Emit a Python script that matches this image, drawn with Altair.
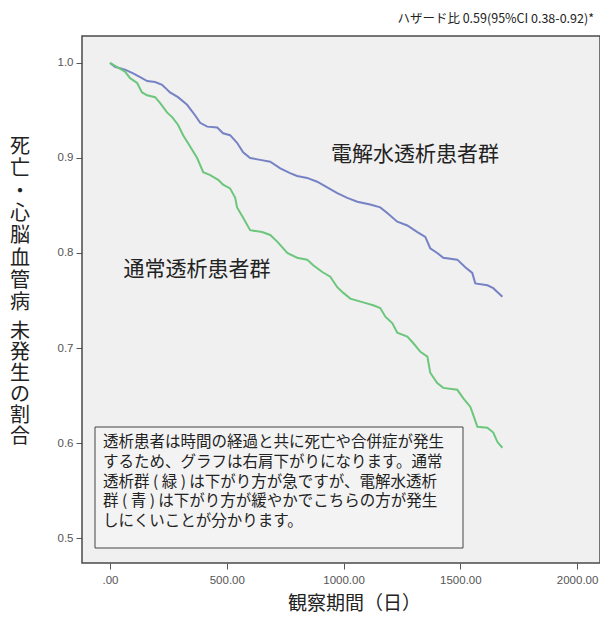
import altair as alt
import pandas as pd

# ---- data (Kaplan-Meier style curves) ----
blue_days = [0, 21, 64, 99, 129, 159, 193, 223, 257, 291, 330, 364, 386, 416, 459, 484, 514, 544, 570, 600,
             643, 686, 729, 771, 801, 844, 887, 930, 973, 1016, 1059, 1114, 1157, 1187, 1230, 1273, 1316,
             1350, 1371, 1401, 1427, 1487, 1521, 1551, 1564, 1616, 1641, 1663, 1680]
blue_surv = [1.000, 0.996, 0.993, 0.989, 0.985, 0.981, 0.980, 0.977, 0.969, 0.964, 0.956, 0.945, 0.937, 0.933,
             0.932, 0.926, 0.924, 0.916, 0.906, 0.900, 0.898, 0.896, 0.889, 0.884, 0.881, 0.879, 0.875, 0.869,
             0.863, 0.858, 0.854, 0.851, 0.848, 0.842, 0.833, 0.829, 0.822, 0.817, 0.805, 0.800, 0.795, 0.793,
             0.785, 0.779, 0.768, 0.766, 0.763, 0.758, 0.754]

green_days = [0, 34, 64, 86, 116, 137, 159, 193, 214, 244, 266, 291, 313, 343, 373, 399, 429, 463, 484, 514,
              536, 544, 570, 600, 651, 686, 716, 759, 801, 844, 870, 909, 943, 973, 999, 1029, 1084, 1127,
              1157, 1179, 1209, 1230, 1273, 1299, 1329, 1359, 1371, 1401, 1427, 1487, 1513, 1543, 1556,
              1573, 1616, 1641, 1659, 1680]
green_surv = [1.000, 0.995, 0.991, 0.984, 0.979, 0.969, 0.966, 0.964, 0.958, 0.948, 0.943, 0.935, 0.924,
              0.912, 0.900, 0.885, 0.882, 0.877, 0.872, 0.868, 0.858, 0.848, 0.837, 0.824, 0.822, 0.819,
              0.812, 0.800, 0.795, 0.793, 0.787, 0.780, 0.775, 0.764, 0.758, 0.752, 0.748, 0.745, 0.742,
              0.733, 0.726, 0.716, 0.712, 0.705, 0.696, 0.691, 0.674, 0.663, 0.658, 0.656, 0.647, 0.638,
              0.629, 0.617, 0.616, 0.611, 0.601, 0.595]

group_names = ["電解水透析患者群", "通常透析患者群"]
group_colors = ["#7682c4", "#6cc67c"]

x_ticks = [0, 500, 1000, 1500, 2000]
y_ticks = [0.5, 0.6, 0.7, 0.8, 0.9, 1.0]

title_text = "ハザード比 0.59(95%CI 0.38-0.92)*"
x_title = "観察期間（日）"
y_title_a = list("死亡・心脳血管病")
y_title_b = list("未発生の割合")
note_lines = [
    "透析患者は時間の経過と共に死亡や合併症が発生",
    "するため、グラフは右肩下がりになります。通常",
    "透析群 ( 緑 ) は下がり方が急ですが、電解水透析",
    "群 ( 青 ) は下がり方が緩やかでこちらの方が発生",
    "しにくいことが分かります。",
]

JP = "Noto Sans CJK JP"
LAT = "Liberation Sans"

df = pd.concat([
    pd.DataFrame({"day": blue_days, "surv": blue_surv, "group": group_names[0]}),
    pd.DataFrame({"day": green_days, "surv": green_surv, "group": group_names[1]}),
])

W, H = 518, 527
xs = alt.Scale(domain=[-120, 2098], nice=False, zero=False)
ys = alt.Scale(domain=[0.4737, 1.0284], nice=False, zero=False)

lines = alt.Chart(df).mark_line(interpolate="linear", strokeWidth=2).encode(
    x=alt.X("day:Q", scale=xs, axis=alt.Axis(
        values=x_ticks,
        labelExpr="datum.value == 0 ? '.00' : format(datum.value, '.2f')",
        title=x_title, titleFont=JP, titleFontSize=19, titleFontWeight="normal",
        titleColor="#222", titleX=272, titleY=40, titleBaseline="middle", titleAlign="center",
        labelFont=LAT, labelFontSize=11.5, labelColor="#555", labelPadding=5,
        tickSize=6, tickColor="#555", domain=False, grid=False)),
    y=alt.Y("surv:Q", scale=ys, axis=alt.Axis(
        values=y_ticks, format=".1f", title=None,
        labelFont=LAT, labelFontSize=11.5, labelColor="#555", labelPadding=3,
        tickSize=6, tickColor="#555", domain=False, grid=False)),
    color=alt.Color("group:N", scale=alt.Scale(domain=group_names, range=group_colors), legend=None),
)

one = pd.DataFrame({"k": [0]})

def txt(text, x, y, size, align="center", baseline="middle", color="#222", font=JP, line_height=None):
    kw = dict(text=text, align=align, baseline=baseline, fontSize=size, font=font, color=color)
    if line_height is not None:
        kw["lineHeight"] = line_height
    return alt.Chart(one).mark_text(**kw).encode(x=alt.value(x), y=alt.value(y))

box = alt.Chart(one).mark_rect(fill="#f3f3f3", stroke="#444", strokeWidth=1).encode(
    x=alt.value(13), x2=alt.value(381), y=alt.value(391), y2=alt.value(512))

layers = [
    lines,
    txt(group_names[0], 333, 119, 21),
    txt(group_names[1], 115, 234, 21),
    box,
    txt(note_lines, 21, 406, 15.5, align="left", line_height=19.8),
    txt(y_title_a, -62, 111, 20, line_height=22.3),
    txt(y_title_b, -62, 296, 20, line_height=21),
    txt(title_text, 512, -17, 12.5, align="right"),
]

chart = alt.layer(*layers).properties(
    width=W, height=H,
    padding={"left": 74, "top": 28, "right": 0, "bottom": 52},
    autosize=alt.AutoSizeParams(type="none"),
    background="white",
).configure_view(
    fill="#f0f0f0", stroke="#4a4a4a", strokeWidth=1.5
)

chart.save("out.html", embed_options={"renderer": "svg", "actions": False})
